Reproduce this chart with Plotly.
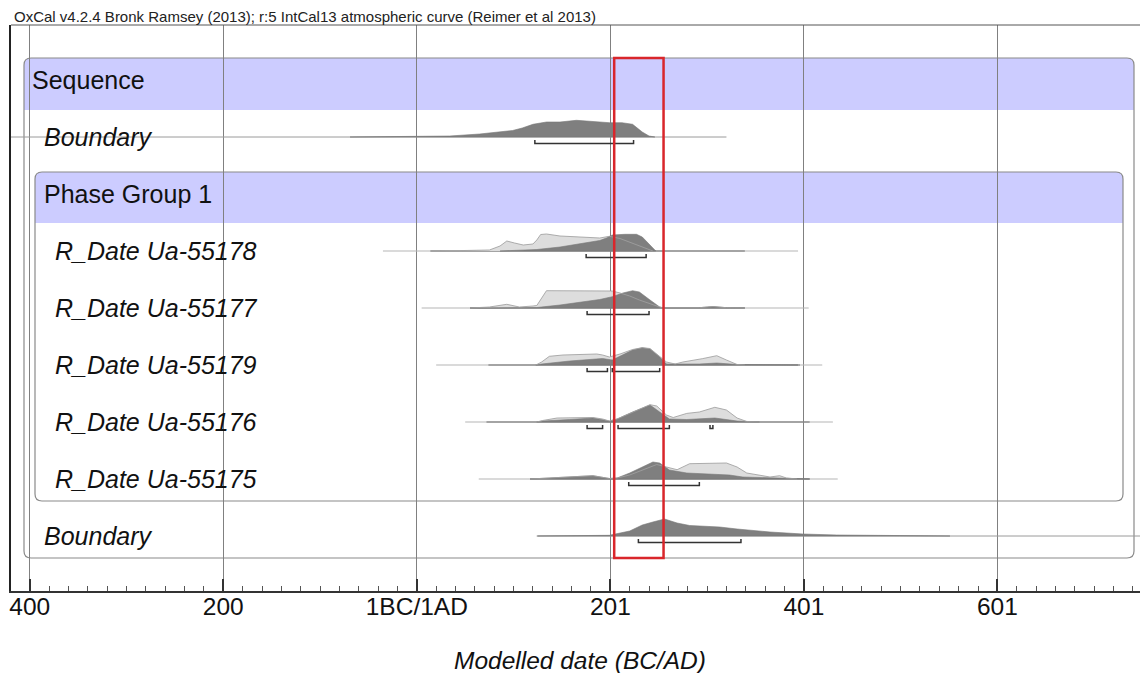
import plotly.graph_objects as go

# ---------------- text ----------------
TITLE = "OxCal v4.2.4 Bronk Ramsey (2013); r:5 IntCal13 atmospheric curve (Reimer et al 2013)"
X_TITLE = "Modelled date (BC/AD)"
TICK_VALUES = [-400, -200, 0, 200, 400, 600]
TICK_LABELS = ["400", "200", "1BC/1AD", "201", "401", "601"]

ROW_NAMES = ["Sequence", "Boundary", "Phase Group 1", "R_Date Ua-55178", "R_Date Ua-55177",
             "R_Date Ua-55179", "R_Date Ua-55176", "R_Date Ua-55175", "Boundary"]
ROW_ITALIC = [False, True, False, True, True, True, True, True, True]

# ---------------- data (years BC/AD, relative density in px) ----------------
# Boundary (start)
B1_POST_YEARS = [-69, 0, 34, 65, 99, 109, 120, 134, 148, 165, 182, 199, 212, 223, 233, 240, 246]
B1_POST = [0, 0.3, 1, 3, 6.5, 9, 12.7, 15, 15, 16.7, 15.7, 14.3, 14.3, 12.7, 5, 1, 0]
B1_RANGES = [[122, 224]]
B1_SPAN = [-431, 320]

# R_Date Ua-55178
R178_PRIOR_YEARS = [24, 75, 86, 93, 101, 110, 120, 124, 128, 134, 148, 158, 179, 189, 199, 210, 220, 230, 241, 244]
R178_PRIOR = [0, 1, 5, 10, 8, 6, 7, 11, 16.5, 17, 15, 14.3, 13.5, 13, 14.7, 12.5, 9, 5.5, 1, 0]
R178_POST_YEARS = [86, 124, 148, 168, 189, 196, 202, 215, 227, 233, 239, 243, 247]
R178_POST = [0, 1.5, 4, 7, 10.5, 13, 16, 16.7, 16.7, 14, 8, 3, 0]
R178_RANGES = [[175, 237]]
R178_PRIOR_SPAN = [-35, 394]
R178_POST_SPAN = [14, 339]

# R_Date Ua-55177
R177_PRIOR_YEARS = [55, 75, 93, 106, 120, 124, 134, 148, 179, 202, 210, 220, 230, 241, 251, 254, 292, 306, 320, 339]
R177_PRIOR = [0, 1, 3.7, 1, 2, 2.5, 17.3, 17.3, 17, 17, 15, 12, 8, 4, 1, 0.3, 0.3, 1.5, 0.3, 0]
R177_POST_YEARS = [55, 124, 148, 168, 189, 202, 213, 223, 230, 241, 251, 254, 292, 306, 320, 339]
R177_POST = [0, 0.5, 3, 5.5, 8.5, 11.3, 15, 17.3, 16, 8, 1, 0.3, 0.3, 1.5, 0.3, 0]
R177_RANGES = [[176, 240]]
R177_PRIOR_SPAN = [5, 405]
R177_POST_SPAN = [55, 339]

# R_Date Ua-55179
R179_PRIOR_YEARS = [123, 129, 137, 151, 186, 192, 199, 210, 223, 233, 241, 251, 258, 267, 275, 295, 310, 320, 331, 339]
R179_PRIOR = [0, 3, 8.7, 10, 11, 10, 8, 11, 15.5, 17.3, 16.5, 9, 3, 1, 3, 6.3, 9.3, 5, 0.5, 0]
R179_POST_YEARS = [123, 129, 158, 192, 202, 210, 223, 233, 241, 251, 258, 292, 310, 331, 396]
R179_POST = [0, 1, 4, 6.5, 5, 9, 15, 17.3, 16, 8, 1, 1, 2, 0.5, 0]
R179_RANGES = [[176, 197], [202, 251]]
R179_PRIOR_SPAN = [20, 419]
R179_POST_SPAN = [74, 394]

# R_Date Ua-55176
R176_PRIOR_YEARS = [124, 130, 145, 182, 192, 199, 207, 223, 241, 248, 258, 265, 279, 292, 308, 320, 331, 341, 354]
R176_PRIOR = [0, 1.5, 4, 4.5, 3, 1, 3, 10, 17.3, 16, 7, 4.5, 8.6, 10, 14.7, 12, 4, 0.5, 0]
R176_POST_YEARS = [124, 130, 158, 182, 199, 207, 223, 241, 251, 261, 279, 308, 331, 354]
R176_POST = [0, 1, 2.5, 4, 1, 3, 10, 17, 10, 3, 2.5, 4, 1, 0]
R176_RANGES = [[176, 192], [208, 261], [303, 306]]
R176_PRIOR_SPAN = [50, 430]
R176_POST_SPAN = [72, 406]

# R_Date Ua-55175
R175_PRIOR_YEARS = [117, 182, 199, 207, 220, 233, 248, 258, 269, 282, 320, 331, 341, 365, 375, 382, 393]
R175_PRIOR = [0, 3.3, 0.5, 1, 4, 9, 14.5, 12, 9.3, 15.3, 16, 12, 6, 2, 3.3, 1, 0]
R175_POST_YEARS = [117, 182, 199, 207, 220, 233, 244, 251, 261, 279, 295, 323, 337, 365, 385, 406]
R175_POST = [0, 3.3, 0.5, 1, 6, 12, 17, 16, 9, 6, 5.5, 4, 2, 1, 0.3, 0]
R175_RANGES = [[219, 292]]
R175_PRIOR_SPAN = [64, 435]
R175_POST_SPAN = [117, 406]

# Boundary (end)
B2_POST_YEARS = [124, 168, 199, 220, 233, 244, 256, 269, 282, 313, 331, 365, 399, 434, 499, 551]
B2_POST = [0, 0.3, 0.7, 5, 11, 14, 17, 13, 10.5, 9, 7, 4, 2, 1, 0.3, 0]
B2_RANGES = [[229, 335]]
B2_SPAN = [125, 760]

# highlighted interval (red frame)
HIGHLIGHT = [204, 255]

# ---------------- layout constants ----------------
W, H = 1140, 673
PL, PR, PT, PB = 11, 1140, 25, 591          # plot area in page pixels
X_RANGE = [-419.4, 747.4]
ROW0_PX, ROW_PX = 80, 57                    # pixel centre of row 0 and spacing
Y_RANGE = [(PB - ROW0_PX) / ROW_PX, (PT - ROW0_PX) / ROW_PX]

DARK = "#7f7f7f"
LIGHT = "#dddddd"
LIGHT_EDGE = "rgba(160,160,160,0.85)"
FONT = "Liberation Sans, Arial, sans-serif"


def px_x(p):
    return (p - PL) / (PR - PL)


def px_y(p):
    return (PB - p) / (PB - PT)


def hscale(h):
    return h / ROW_PX


fig = go.Figure()


def add_dist(row, years, dens, fill, edge=None, edge_w=0):
    top = [row - hscale(d) for d in dens]
    xs = list(years) + list(years)[::-1]
    ys = top + [row] * len(years)
    fig.add_trace(go.Scatter(x=xs, y=ys, mode="lines", fill="toself", fillcolor=fill,
                             line=dict(color=edge or fill, width=edge_w),
                             hoverinfo="skip", showlegend=False))


def add_outline(row, years, dens, color, width=1):
    fig.add_trace(go.Scatter(x=list(years), y=[row - hscale(d) for d in dens], mode="lines",
                             line=dict(color=color, width=width),
                             hoverinfo="skip", showlegend=False))


def add_span(row, span, color, width):
    fig.add_trace(go.Scatter(x=span, y=[row, row], mode="lines",
                             line=dict(color=color, width=width),
                             hoverinfo="skip", showlegend=False))


def add_ranges(row, ranges):
    for a, b in ranges:
        y_low = row + hscale(6.5)
        y_up = row + hscale(3)
        fig.add_trace(go.Scatter(x=[a, a, b, b], y=[y_up, y_low, y_low, y_up], mode="lines",
                                 line=dict(color="#333333", width=1.5),
                                 hoverinfo="skip", showlegend=False))


# Boundaries (posterior only)
for row, span, yrs, dens, rng in [
    (1, B1_SPAN, B1_POST_YEARS, B1_POST, B1_RANGES),
    (8, B2_SPAN, B2_POST_YEARS, B2_POST, B2_RANGES),
]:
    add_span(row, span, "#9a9a9a", 1)
    add_dist(row, yrs, dens, DARK, "#777777", 0.6)
    add_ranges(row, rng)

# R_Dates (prior light, posterior dark)
for row, pspan, qspan, pyrs, pdens, qyrs, qdens, rng in [
    (3, R178_PRIOR_SPAN, R178_POST_SPAN, R178_PRIOR_YEARS, R178_PRIOR, R178_POST_YEARS, R178_POST, R178_RANGES),
    (4, R177_PRIOR_SPAN, R177_POST_SPAN, R177_PRIOR_YEARS, R177_PRIOR, R177_POST_YEARS, R177_POST, R177_RANGES),
    (5, R179_PRIOR_SPAN, R179_POST_SPAN, R179_PRIOR_YEARS, R179_PRIOR, R179_POST_YEARS, R179_POST, R179_RANGES),
    (6, R176_PRIOR_SPAN, R176_POST_SPAN, R176_PRIOR_YEARS, R176_PRIOR, R176_POST_YEARS, R176_POST, R176_RANGES),
    (7, R175_PRIOR_SPAN, R175_POST_SPAN, R175_PRIOR_YEARS, R175_PRIOR, R175_POST_YEARS, R175_POST, R175_RANGES),
]:
    add_span(row, pspan, "#b5b5b5", 1)
    add_span(row, qspan, "#6e6e6e", 1.2)
    add_dist(row, pyrs, pdens, LIGHT, LIGHT, 0)
    add_dist(row, qyrs, qdens, DARK, "#777777", 0.6)
    add_outline(row, pyrs, pdens, LIGHT_EDGE, 1)
    add_ranges(row, rng)

# ---------------- boxes ----------------
shapes = []


def rrect_path(x0, y0, x1, y1, r, top_only=False):
    # page pixel coords in, paper coords out
    X0, X1 = px_x(x0), px_x(x1)
    Yt, Yb = px_y(y0), px_y(y1)
    rx, ry = r / (PR - PL), r / (PB - PT)
    p = f"M {X0},{Yb + (0 if top_only else ry)} L {X0},{Yt - ry} Q {X0},{Yt} {X0 + rx},{Yt} "
    p += f"L {X1 - rx},{Yt} Q {X1},{Yt} {X1},{Yt - ry} "
    if top_only:
        p += f"L {X1},{Yb} Z"
    else:
        p += f"L {X1},{Yb + ry} Q {X1},{Yb} {X1 - rx},{Yb} L {X0 + rx},{Yb} Q {X0},{Yb} {X0},{Yb + ry} Z"
    return p


HEADER = "#ccccff"
for (x0, y0, x1, y1, hb) in [(24, 58, 1134, 558, 110), (35, 172, 1123, 501, 223)]:
    shapes.append(dict(type="path", xref="paper", yref="paper", layer="below",
                       path=rrect_path(x0, y0, x1, hb, 7, top_only=True),
                       fillcolor=HEADER, line=dict(width=0)))
    shapes.append(dict(type="path", xref="paper", yref="paper", layer="below",
                       path=rrect_path(x0, y0, x1, y1, 7),
                       fillcolor="rgba(0,0,0,0)", line=dict(color="#8a8a8a", width=1.2)))

# top frame line
shapes.append(dict(type="line", xref="paper", yref="paper", x0=0, x1=1, y0=1, y1=1,
                   line=dict(color="#555555", width=1)))
# red highlight frame
shapes.append(dict(type="rect", xref="x", yref="paper", x0=HIGHLIGHT[0], x1=HIGHLIGHT[1],
                   y0=px_y(558), y1=px_y(58), line=dict(color="#d9262b", width=2.5),
                   fillcolor="rgba(0,0,0,0)", layer="above"))

# ---------------- labels ----------------
annotations = []
label_x = [30, 42, 42, 53, 53, 53, 53, 53, 42]
for i, name in enumerate(ROW_NAMES):
    txt = f"<i>{name}</i>" if ROW_ITALIC[i] else name
    annotations.append(dict(text=txt, xref="paper", yref="y", x=px_x(label_x[i]), y=i,
                            xanchor="left", yanchor="middle", showarrow=False,
                            font=dict(family=FONT, size=25, color="#111111")))
annotations.append(dict(text=TITLE, xref="paper", yref="paper", x=px_x(12), y=px_y(16),
                        xanchor="left", yanchor="middle", showarrow=False,
                        font=dict(family=FONT, size=15, color="#222222")))
annotations.append(dict(text=f"<i>{X_TITLE}</i>", xref="paper", yref="paper", x=px_x(580),
                        y=px_y(660), xanchor="center", yanchor="middle", showarrow=False,
                        font=dict(family=FONT, size=24.5, color="#111111")))

fig.update_layout(
    width=W, height=H, autosize=False,
    margin=dict(l=PL, r=W - PR, t=PT, b=H - PB, pad=0),
    paper_bgcolor="white", plot_bgcolor="white",
    shapes=shapes, annotations=annotations, showlegend=False,
    xaxis=dict(range=X_RANGE, tickvals=TICK_VALUES, ticktext=TICK_LABELS,
               ticks="inside", ticklen=12, tickwidth=1.5, tickcolor="#333333",
               ticklabelstandoff=-7,
               showgrid=True, gridcolor="#808080", gridwidth=1, zeroline=False,
               showline=True, linecolor="#333333", linewidth=2,
               tickfont=dict(family=FONT, size=24.5, color="#111111"),
               minor=dict(dtick=20, tick0=0, ticks="inside", ticklen=5, tickwidth=1,
                          tickcolor="#555555", showgrid=False)),
    yaxis=dict(range=Y_RANGE, showgrid=False, zeroline=False, showticklabels=False,
               ticks="", showline=True, linecolor="#222222", linewidth=2),
)

# remove the browser's default 8px page margin so the figure fills the window exactly
fig.write_html("out.html", config={"displayModeBar": False},
               post_script="document.body.style.margin='0px';document.body.style.overflow='hidden';")
